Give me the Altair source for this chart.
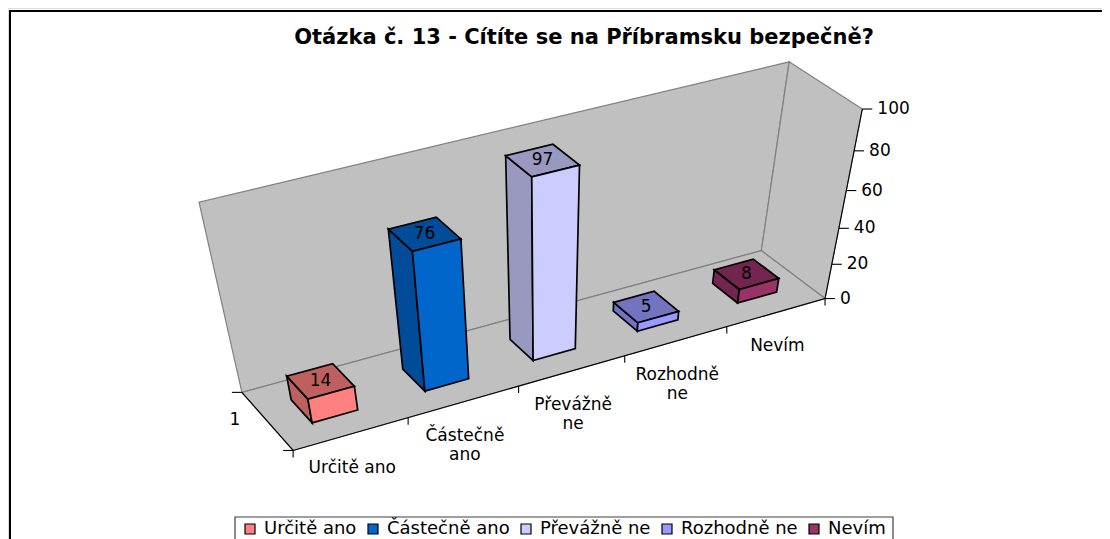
import numpy as np
import altair as alt

TITLE = "Otázka č. 13 - Cítíte se na Příbramsku bezpečně?"
CATEGORIES = ["Určitě ano", "Částečně ano", "Převážně ne", "Rozhodně ne", "Nevím"]
AXIS_LABELS = [["Určitě ano"], ["Částečně", "ano"], ["Převážně", "ne"], ["Rozhodně", "ne"], ["Nevím"]]
VALUES = [14, 76, 97, 5, 8]
FRONT = ["#FF8080", "#0066CC", "#CCCCFF", "#9999FF", "#993366"]
SHADE = ["#BF6060", "#004C99", "#9999BF", "#7373BF", "#73264D"]
TICKS = [0, 20, 40, 60, 80, 100]

OFF = 8
W, H = 1094, 531
FONT = "DejaVu Sans"

world = [(0,0,0),(5,0,0),(0,1,0),(5,1,0),(0,1,100),(5,1,100),(5,0,100)]
image = [(293,450),(825,299),(242,393),(761.4,250),(199,202),(789,62),(862.5,109)]
A = []
b = []
for (u,d,z),(px,py) in zip(world,image):
    A.append([u,d,z,1,0,0,0,0,-px*u,-px*d,-px*z]); b.append(px)
    A.append([0,0,0,0,u,d,z,1,-py*u,-py*d,-py*z]); b.append(py)
M = np.append(np.linalg.lstsq(np.array(A,float),np.array(b,float),rcond=None)[0],1.0).reshape(3,4)

def P(u,d,z):
    x,y,w = M @ np.array([u,d,z,1.0])
    return [float(x/w-OFF), float(y/w-OFF)]

def poly(pts, **props):
    ring = pts+[pts[0]]
    return {"type":"Feature","properties":props,
            "geometry":{"type":"Polygon","coordinates":[ring]}}

def line(pts, **props):
    return {"type":"Feature","properties":props,
            "geometry":{"type":"LineString","coordinates":pts}}

proj = dict(type="identity", scale=1, translate=[0,0], reflectY=False)

def shapes(features, **mark):
    return alt.Chart(alt.Data(values=features)).mark_geoshape(**mark).project(**proj)

GX = alt.X("x:Q", scale=alt.Scale(domain=[0,W], range=[0,W]), axis=None)
GY = alt.Y("y:Q", scale=alt.Scale(domain=[0,H], range=[0,H]), axis=None)

def texts(rows, **mark):
    base = dict(font=FONT, fontSize=17, color="black", baseline="middle", align="center")
    base.update(mark)
    return alt.Chart(alt.Data(values=rows)).mark_text(**base).encode(x=GX, y=GY, text="t:N")

frame = shapes([line([[10-OFF,H+5],[10-OFF,11-OFF],[W+5,11-OFF]])],
               filled=False, stroke="black", strokeWidth=2)

walls = shapes([
    poly([P(0,1,0),P(5,1,0),P(5,1,100),P(0,1,100)]),
    poly([P(5,1,0),P(5,0,0),P(5,0,100),P(5,1,100)]),
    poly([P(0,0,0),P(5,0,0),P(5,1,0),P(0,1,0)]),
], fill="#C0C0C0", stroke="#808080", strokeWidth=1.2)

axis_lines = [line([P(0,1,0),P(0,0,0),P(5,0,0),P(5,0,100)])]
tick_lines = []
for i in range(6):
    p = P(i,0,0)
    tick_lines.append(line([p,[p[0],p[1]+7]]))
for p in (P(0,0,0),P(0,1,0)):
    tick_lines.append(line([[p[0]-10,p[1]],p]))
value_labels = []
for t in TICKS:
    p = P(5,0,t)
    tick_lines.append(line([p,[p[0]+10,p[1]]]))
    value_labels.append({"x":p[0]+15,"y":p[1],"t":str(t)})
axes = shapes(axis_lines+tick_lines, filled=False, stroke="black", strokeWidth=1.1)

U0,U1,D0,D1 = 0.3,0.7,0.3,0.7
shade_faces = []
front_faces = []
bar_labels = []
for i,(v,f,s,c) in enumerate(zip(VALUES,FRONT,SHADE,CATEGORIES)):
    a,b_ = i+U0,i+U1
    shade_faces.append(poly([P(a,D0,0),P(a,D1,0),P(a,D1,v),P(a,D0,v)],color=s))
    front_faces.append(poly([P(a,D0,0),P(b_,D0,0),P(b_,D0,v),P(a,D0,v)],category=c))
    shade_faces.append(poly([P(a,D0,v),P(b_,D0,v),P(b_,D1,v),P(a,D1,v)],color=s))
    q = P(i+0.5,0.5,v)
    bar_labels.append({"x":q[0],"y":q[1],"t":str(v)})

sides = shapes(shade_faces, stroke="black", strokeWidth=1.7).encode(
    fill=alt.Fill("properties.color:N", scale=None))
fronts = shapes(front_faces, stroke="black", strokeWidth=1.7).encode(
    fill=alt.Fill("properties.category:N",
        scale=alt.Scale(domain=CATEGORIES, range=FRONT),
        legend=alt.Legend(orient="none", legendX=241-OFF, legendY=520-OFF,
            direction="horizontal", columns=5, title=None, symbolType="square",
            symbolSize=100, symbolStrokeColor="black", symbolStrokeWidth=1.2,
            labelFont=FONT, labelFontSize=18, labelColor="black", labelLimit=300,
            padding=0, columnPadding=7, gridAlign="none", labelOffset=5,
            symbolOpacity=1)))

legend_box = shapes([poly([[235-OFF,517-OFF],[893-OFF,517-OFF],[893-OFF,H+10],[235-OFF,H+10]])],
                    fill="white", stroke="#404040", strokeWidth=1.2)

cat_rows = []
for i,lines in enumerate(AXIS_LABELS):
    p = P(i+0.5,0,0)
    for k,txt in enumerate(lines):
        cat_rows.append({"x":p[0]+1,"y":p[1]+34+k*19,"t":txt})
cat_rows.append({"x":235-OFF,"y":420-OFF,"t":"1"})

title = texts([{"x":584-OFF,"y":38-OFF,"t":TITLE}], fontSize=21, fontWeight="bold")

chart = alt.layer(
    frame, walls, axes, legend_box, sides, fronts,
    texts(bar_labels), texts(value_labels, align="left"), texts(cat_rows), title,
).properties(width=W, height=H, padding=0, autosize=alt.AutoSizeParams(type="none")
).configure_view(stroke=None).configure(background="white")
chart.save("out.html", embed_options={"renderer":"svg","actions":False})
